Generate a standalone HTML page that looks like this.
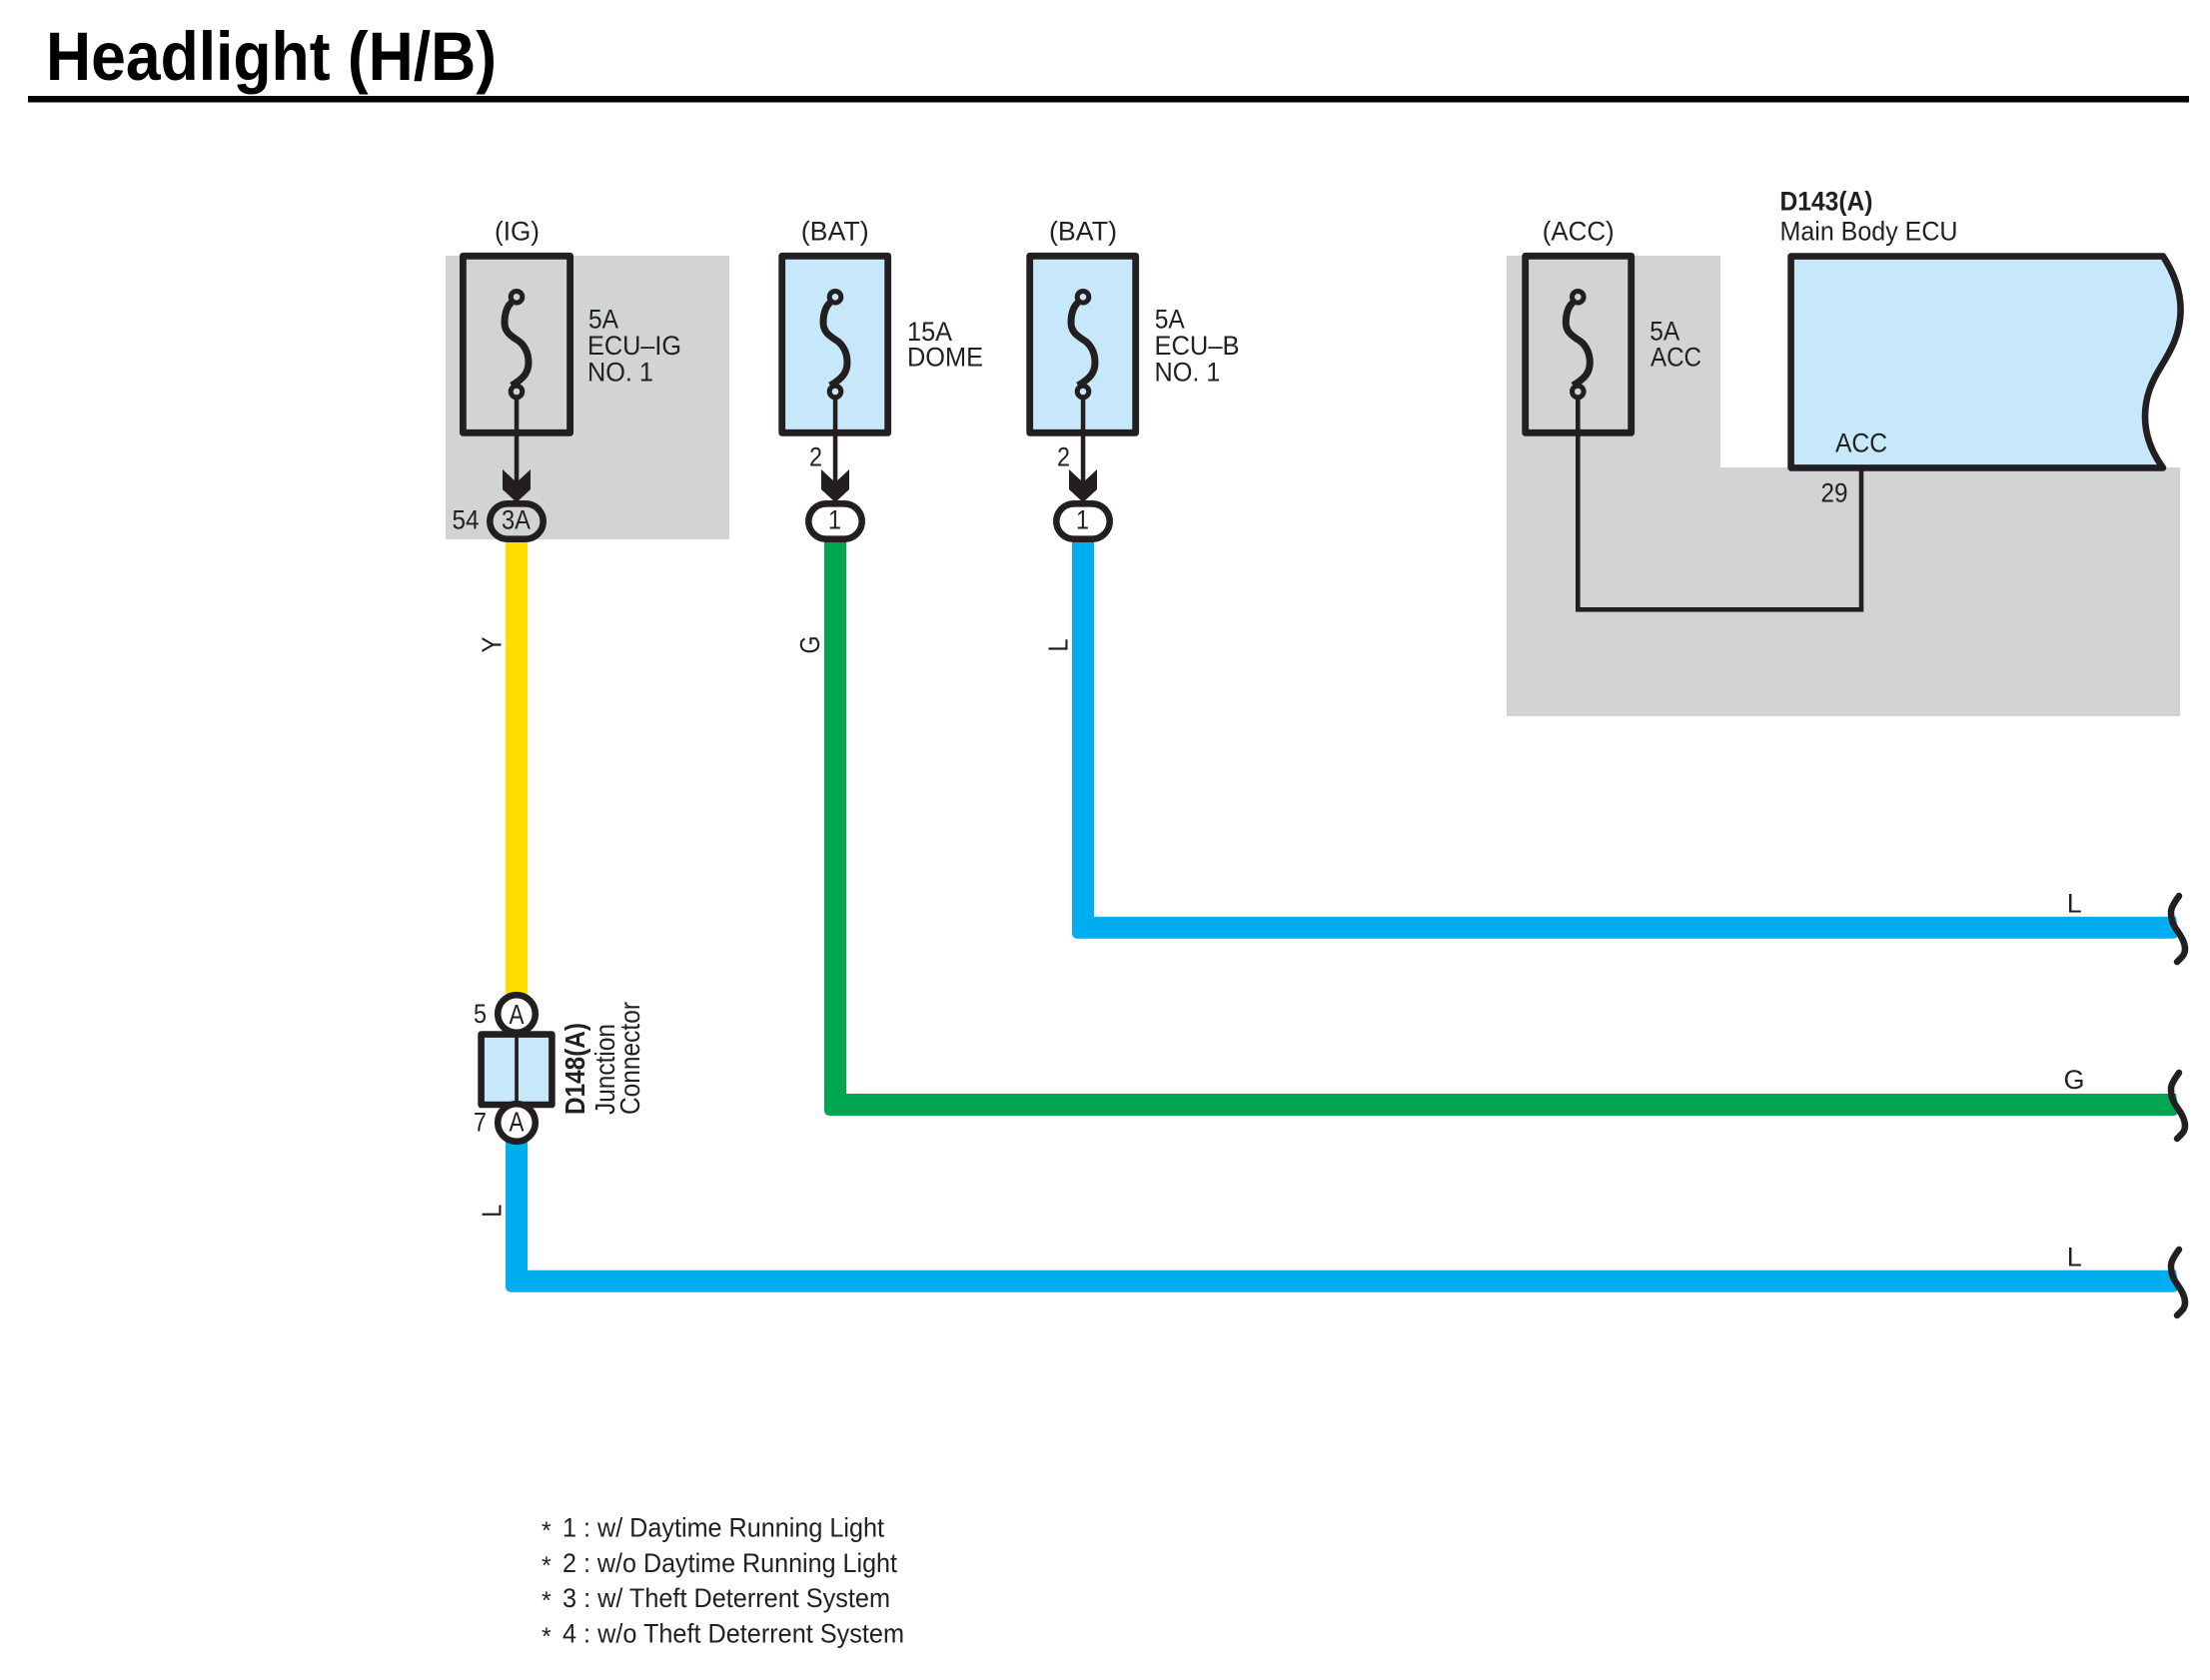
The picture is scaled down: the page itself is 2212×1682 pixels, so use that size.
<!DOCTYPE html>
<html lang="en">
<head>
<meta charset="utf-8">
<title>Headlight (H/B)</title>
<style>
html,body{margin:0;padding:0;background:#fff;width:2212px;height:1682px;overflow:hidden}
svg{display:block}
text{font-family:"Liberation Sans",sans-serif;font-size:27px;fill:#231f20}
.b{font-weight:bold}
.r{font-size:28px}
</style>
</head>
<body>
<svg xmlns="http://www.w3.org/2000/svg" width="2212" height="1682" viewBox="0 0 2212 1682">
<defs>
<g id="f" fill="none" stroke="#231f20">
<circle cx="0" cy="297.3" r="5.8" stroke-width="5"/>
<circle cx="0" cy="392" r="5.8" stroke-width="5"/>
<path stroke-width="7" d="M-5 303 C-9 306 -12 313 -12 323 C-12 332 -6 336 0 340 C7 344 12 352 12 363 C12 373 7 379 -5 386"/>
</g>
<path id="s" fill="none" stroke="#231f20" stroke-width="6.5" stroke-linecap="round" d="M2183 -29 C2178 -22 2175 -17 2175 -13 C2175 -4 2177 0 2182 7 C2187 14 2189 19 2189 24 C2189 30 2186 32 2181 37"/>
</defs>
<rect width="2212" height="1682" fill="#fff"/>

<!-- Title -->
<text class="b" x="46" y="80" style="font-size:69px;fill:#000" textLength="451" lengthAdjust="spacingAndGlyphs">Headlight (H/B)</text>
<rect x="28" y="96" width="2163" height="6.5" fill="#000"/>

<!-- Gray zones -->
<rect x="446" y="256" width="284" height="284" fill="#d1d3d4"/>
<path d="M1508 256 H1722 V468 H2182 V717 H1508 Z" fill="#d1d3d4"/>

<!-- Wires -->
<rect x="506" y="540" width="22" height="470" fill="#ffde00"/>
<path d="M825 540 V1111 Q825 1117 831 1117 H2175 Q2179 1117 2181 1113 L2178 1095 H847 V540 Z" fill="#00a651"/>
<path d="M1073 540 V933.7 Q1073 939.7 1079 939.7 H2175 Q2179 939.7 2181 935.7 L2178 917.7 H1095 V540 Z" fill="#00aeef"/>
<path d="M506 1140 V1287.7 Q506 1293.7 512 1293.7 H2175 Q2179 1293.7 2181 1289.7 L2178 1271.7 H528 V1140 Z" fill="#00aeef"/>

<!-- Wire breaks -->
<use href="#s" transform="translate(-2,926)"/>
<use href="#s" transform="translate(-2,1103)"/>
<use href="#s" transform="translate(-2,1280)"/>

<!-- Fuse boxes -->
<rect x="463.4" y="256.3" width="107.2" height="177" fill="none" stroke="#231f20" stroke-width="6.8" stroke-linejoin="round"/>
<rect x="782.7" y="256.3" width="106" height="177" fill="#c7e8fa" stroke="#231f20" stroke-width="6.8" stroke-linejoin="round"/>
<rect x="1030.7" y="256.3" width="106" height="177" fill="#c7e8fa" stroke="#231f20" stroke-width="6.8" stroke-linejoin="round"/>
<rect x="1526.7" y="256.3" width="106" height="177" fill="none" stroke="#231f20" stroke-width="6.8" stroke-linejoin="round"/>
<use href="#f" transform="translate(517,0)"/>
<use href="#f" transform="translate(836,0)"/>
<use href="#f" transform="translate(1084,0)"/>
<use href="#f" transform="translate(1579.3,0)"/>

<!-- Thin wires and arrows -->
<g fill="#231f20">
<rect x="514.8" y="397" width="4.5" height="95"/>
<rect x="833.8" y="397" width="4.5" height="95"/>
<rect x="1081.8" y="397" width="4.5" height="95"/>
<polygon points="503,470 517,483 531,470 531,490 517,503 503,490"/>
<polygon points="822,470 836,483 850,470 850,490 836,503 822,490"/>
<polygon points="1070,470 1084,483 1098,470 1098,490 1084,503 1070,490"/>
</g>

<!-- Ovals -->
<rect x="490.3" y="504.3" width="53.4" height="35.4" rx="17.7" fill="#d1d3d4" stroke="#231f20" stroke-width="6.6"/>
<rect x="809.3" y="504.3" width="53.4" height="35.4" rx="17.7" fill="#fff" stroke="#231f20" stroke-width="6.6"/>
<rect x="1057.3" y="504.3" width="53.4" height="35.4" rx="17.7" fill="#fff" stroke="#231f20" stroke-width="6.6"/>

<!-- ECU -->
<path d="M1792.6 256.6 H2165 C2177 275 2182.6 292 2182.6 310 C2182.6 335 2172 352 2163 367 C2153 383 2147 398 2147 417 C2147 435 2153 452 2165 468.4 H1792.6 Z" fill="#c7e8fa" stroke="#231f20" stroke-width="6.6" stroke-linejoin="round"/>
<path d="M1579.3 397 V610.3 H1863 V468" fill="none" stroke="#231f20" stroke-width="4.6"/>

<!-- Junction connector -->
<rect x="481.6" y="1035.6" width="70.8" height="70.4" fill="#c7e8fa" stroke="#231f20" stroke-width="6.6" stroke-linejoin="round"/>
<rect x="515.2" y="1035" width="3.7" height="72" fill="#231f20"/>
<circle cx="517" cy="1015" r="18.8" fill="#fff" stroke="#231f20" stroke-width="6.6"/>
<circle cx="517" cy="1124" r="18.8" fill="#fff" stroke="#231f20" stroke-width="6.6"/>
<text class="r" x="509.5" y="1025" textLength="15" lengthAdjust="spacingAndGlyphs">A</text>
<text class="r" x="509.5" y="1132.7" textLength="15" lengthAdjust="spacingAndGlyphs">A</text>
<text x="474" y="1024" textLength="13" lengthAdjust="spacingAndGlyphs">5</text>
<text x="474" y="1132.7" textLength="13" lengthAdjust="spacingAndGlyphs">7</text>
<text class="b r" transform="translate(585,1116) rotate(-90)" textLength="92" lengthAdjust="spacingAndGlyphs">D148(A)</text>
<text class="r" transform="translate(615,1116) rotate(-90)" textLength="91" lengthAdjust="spacingAndGlyphs">Junction</text>
<text class="r" transform="translate(640,1116) rotate(-90)" textLength="113" lengthAdjust="spacingAndGlyphs">Connector</text>

<!-- Fuse labels -->
<text x="495" y="240.7" textLength="45" lengthAdjust="spacingAndGlyphs">(IG)</text>
<text x="801.7" y="240.7" textLength="68" lengthAdjust="spacingAndGlyphs">(BAT)</text>
<text x="1050" y="240.7" textLength="68" lengthAdjust="spacingAndGlyphs">(BAT)</text>
<text x="1543.7" y="240.7" textLength="72" lengthAdjust="spacingAndGlyphs">(ACC)</text>

<text x="589" y="328.3" textLength="30" lengthAdjust="spacingAndGlyphs">5A</text>
<text x="588" y="355" textLength="94" lengthAdjust="spacingAndGlyphs">ECU–IG</text>
<text x="588" y="381.7" textLength="66" lengthAdjust="spacingAndGlyphs">NO. 1</text>

<text x="908" y="341" textLength="45" lengthAdjust="spacingAndGlyphs">15A</text>
<text x="908" y="366.7" textLength="76" lengthAdjust="spacingAndGlyphs">DOME</text>

<text x="1155.7" y="328.3" textLength="30" lengthAdjust="spacingAndGlyphs">5A</text>
<text x="1155.5" y="355" textLength="85" lengthAdjust="spacingAndGlyphs">ECU–B</text>
<text x="1155.5" y="381.7" textLength="66" lengthAdjust="spacingAndGlyphs">NO. 1</text>

<text x="1651.3" y="340.7" textLength="30" lengthAdjust="spacingAndGlyphs">5A</text>
<text x="1652" y="366.7" textLength="51" lengthAdjust="spacingAndGlyphs">ACC</text>

<text class="b" x="1781.5" y="210.5" textLength="93" lengthAdjust="spacingAndGlyphs">D143(A)</text>
<text x="1781.5" y="240.7" textLength="178" lengthAdjust="spacingAndGlyphs">Main Body ECU</text>
<text x="1837" y="452.7" textLength="52" lengthAdjust="spacingAndGlyphs">ACC</text>
<text x="1822.5" y="502.3" textLength="27" lengthAdjust="spacingAndGlyphs">29</text>

<!-- Pin labels -->
<text x="452.5" y="529.3" textLength="27" lengthAdjust="spacingAndGlyphs">54</text>
<text x="502" y="529.3" textLength="29" lengthAdjust="spacingAndGlyphs">3A</text>
<text x="829" y="529.3" textLength="13" lengthAdjust="spacingAndGlyphs">1</text>
<text x="1077" y="529.3" textLength="13" lengthAdjust="spacingAndGlyphs">1</text>
<text x="810" y="466.7" textLength="13" lengthAdjust="spacingAndGlyphs">2</text>
<text x="1058" y="466.7" textLength="13" lengthAdjust="spacingAndGlyphs">2</text>

<!-- Wire colour labels -->
<text class="r" transform="translate(501.7,653.5) rotate(-90)" textLength="16" lengthAdjust="spacingAndGlyphs">Y</text>
<text class="r" transform="translate(820,654.5) rotate(-90)" textLength="18" lengthAdjust="spacingAndGlyphs">G</text>
<text class="r" transform="translate(1068.3,652.5) rotate(-90)" textLength="13" lengthAdjust="spacingAndGlyphs">L</text>
<text class="r" transform="translate(501.7,1218.7) rotate(-90)" textLength="13" lengthAdjust="spacingAndGlyphs">L</text>
<text x="2068.8" y="913.3">L</text>
<text x="2065.5" y="1090">G</text>
<text x="2068.8" y="1267.7">L</text>

<!-- Notes -->
<text x="542" y="1541" style="font-size:25px">*</text>
<text x="542" y="1576" style="font-size:25px">*</text>
<text x="542" y="1611" style="font-size:25px">*</text>
<text x="542" y="1647" style="font-size:25px">*</text>
<text x="563" y="1538.5" textLength="322" lengthAdjust="spacingAndGlyphs">1 : w/ Daytime Running Light</text>
<text x="563" y="1574" textLength="335" lengthAdjust="spacingAndGlyphs">2 : w/o Daytime Running Light</text>
<text x="563" y="1609" textLength="328" lengthAdjust="spacingAndGlyphs">3 : w/ Theft Deterrent System</text>
<text x="563" y="1644.5" textLength="342" lengthAdjust="spacingAndGlyphs">4 : w/o Theft Deterrent System</text>
</svg>
</body>
</html>
